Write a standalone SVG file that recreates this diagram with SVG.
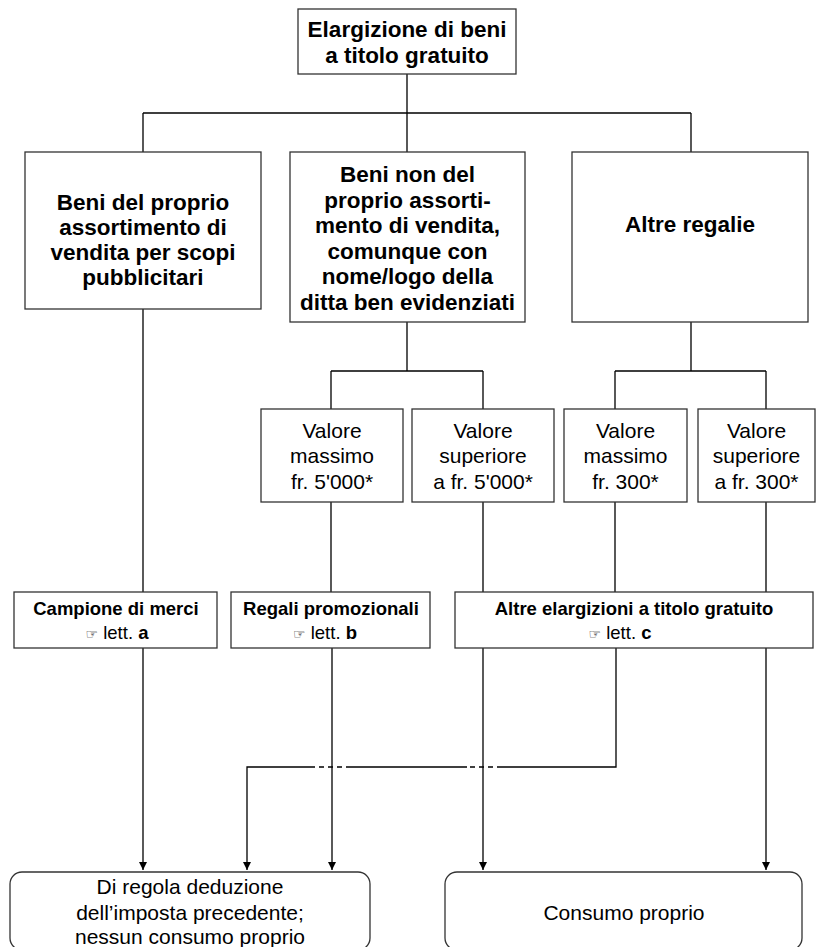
<svg xmlns="http://www.w3.org/2000/svg" width="817" height="947" viewBox="0 0 817 947">
  <style>
    .box { fill: #fff; stroke: #333; stroke-width: 1.3; }
    .wire { fill: none; stroke: #000; stroke-width: 1.3; }
    .dash { fill: none; stroke: #000; stroke-width: 1.3; stroke-dasharray: 5 4; }
    .b { font-family: "Liberation Sans", Arial, sans-serif; font-weight: bold; font-size: 22.5px; fill: #000; text-anchor: middle; }
    .r { font-family: "Liberation Sans", Arial, sans-serif; font-size: 21px; fill: #000; text-anchor: middle; }
    .s { font-family: "Liberation Sans", Arial, sans-serif; font-weight: bold; font-size: 18.5px; fill: #000; text-anchor: middle; }
    .hand { font-family: "DejaVu Sans", sans-serif; font-size: 14px; font-weight: normal; }
    .lt { font-weight: normal; }
  </style>
  <defs>
    <marker id="arrow" viewBox="0 0 10 10" refX="10" refY="5" markerWidth="8" markerHeight="10" markerUnits="userSpaceOnUse" orient="auto">
      <path d="M0,0 L10,5 L0,10 Z" fill="#000"/>
    </marker>
  </defs>

  <!-- connectors -->
  <g id="connectors">
    <!-- root to first level -->
    <path class="wire" d="M407,74 V113 M143,113 H691 M143,113 V152 M407,113 V152 M691,113 V152"/>
    <!-- first level branches -->
    <path class="wire" d="M143,309 V592"/>
    <path class="wire" d="M407,322 V371 M331,371 H483 M331,371 V409 M483,371 V409"/>
    <path class="wire" d="M691,322 V371 M615,371 H766 M615,371 V409 M766,371 V409"/>
    <!-- value boxes to category boxes -->
    <path class="wire" d="M331,502 V592 M483,502 V592 M615,502 V592 M766,502 V592"/>
    <!-- category boxes to outcomes -->
    <path class="wire" d="M143,648 V870" marker-end="url(#arrow)"/>
    <path class="wire" d="M332,648 V870" marker-end="url(#arrow)"/>
    <path class="wire" d="M483,648 V870" marker-end="url(#arrow)"/>
    <path class="wire" d="M766,648 V870" marker-end="url(#arrow)"/>
    <!-- routed line with bridged crossings -->
    <path class="wire" d="M616,648 V767 H502 M467,767 H351 M313,767 H247 V870" marker-end="url(#arrow)"/>
    <path class="dash" d="M502,767 H467 M351,767 H313"/>
  </g>

  <g id="root">
    <rect class="box" x="298" y="9" width="218" height="65"/>
    <text class="b" x="407" y="37">Elargizione di beni</text>
    <text class="b" x="407" y="63">a titolo gratuito</text>
  </g>

  <g id="own-range">
    <rect class="box" x="25" y="152" width="236" height="157"/>
    <text class="b" x="143" y="210">Beni del proprio</text>
    <text class="b" x="143" y="235">assortimento di</text>
    <text class="b" x="143" y="260">vendita per scopi</text>
    <text class="b" x="143" y="285">pubblicitari</text>
  </g>

  <g id="other-range">
    <rect class="box" x="290" y="152" width="235" height="170"/>
    <text class="b" x="407.5" y="182">Beni non del</text>
    <text class="b" x="407.5" y="207.5">proprio assorti-</text>
    <text class="b" x="407.5" y="233">mento di vendita,</text>
    <text class="b" x="407.5" y="258.5">comunque con</text>
    <text class="b" x="407.5" y="284">nome/logo della</text>
    <text class="b" x="407.5" y="309.5">ditta ben evidenziati</text>
  </g>

  <g id="other-gifts">
    <rect class="box" x="572" y="152" width="236" height="170"/>
    <text class="b" x="690" y="232">Altre regalie</text>
  </g>

  <g id="max-5000">
    <rect class="box" x="261" y="409" width="142" height="93"/>
    <text class="r" x="332" y="438">Valore</text>
    <text class="r" x="332" y="463">massimo</text>
    <text class="r" x="332" y="489">fr. 5'000*</text>
  </g>

  <g id="over-5000">
    <rect class="box" x="412" y="409" width="142" height="93"/>
    <text class="r" x="483" y="438">Valore</text>
    <text class="r" x="483" y="463">superiore</text>
    <text class="r" x="483" y="489">a fr. 5'000*</text>
  </g>

  <g id="max-300">
    <rect class="box" x="564" y="409" width="123" height="93"/>
    <text class="r" x="625.5" y="438">Valore</text>
    <text class="r" x="625.5" y="463">massimo</text>
    <text class="r" x="625.5" y="489">fr. 300*</text>
  </g>

  <g id="over-300">
    <rect class="box" x="698" y="409" width="117" height="93"/>
    <text class="r" x="756.5" y="438">Valore</text>
    <text class="r" x="756.5" y="463">superiore</text>
    <text class="r" x="756.5" y="489">a fr. 300*</text>
  </g>

  <g id="samples">
    <rect class="box" x="14" y="592" width="203" height="56"/>
    <text class="s" x="116" y="615">Campione di merci</text>
    <text class="s" x="117" y="639"><tspan class="hand">☞</tspan><tspan class="lt"> lett. </tspan>a</text>
  </g>

  <g id="promo">
    <rect class="box" x="231" y="592" width="199" height="56"/>
    <text class="s" x="331" y="615">Regali promozionali</text>
    <text class="s" x="325" y="639"><tspan class="hand">☞</tspan><tspan class="lt"> lett. </tspan>b</text>
  </g>

  <g id="other-free">
    <rect class="box" x="455" y="592" width="358" height="56"/>
    <text class="s" x="634" y="615">Altre elargizioni a titolo gratuito</text>
    <text class="s" x="620" y="639"><tspan class="hand">☞</tspan><tspan class="lt"> lett. </tspan>c</text>
  </g>

  <g id="deduction">
    <rect class="box" x="10" y="872" width="360" height="78" rx="12" ry="12"/>
    <text class="r" x="190" y="894">Di regola deduzione</text>
    <text class="r" x="190" y="920">dell’imposta precedente;</text>
    <text class="r" x="190" y="944">nessun consumo proprio</text>
  </g>

  <g id="own-use">
    <rect class="box" x="445" y="872" width="357" height="78" rx="12" ry="12"/>
    <text class="r" x="624" y="920">Consumo proprio</text>
  </g>
</svg>
